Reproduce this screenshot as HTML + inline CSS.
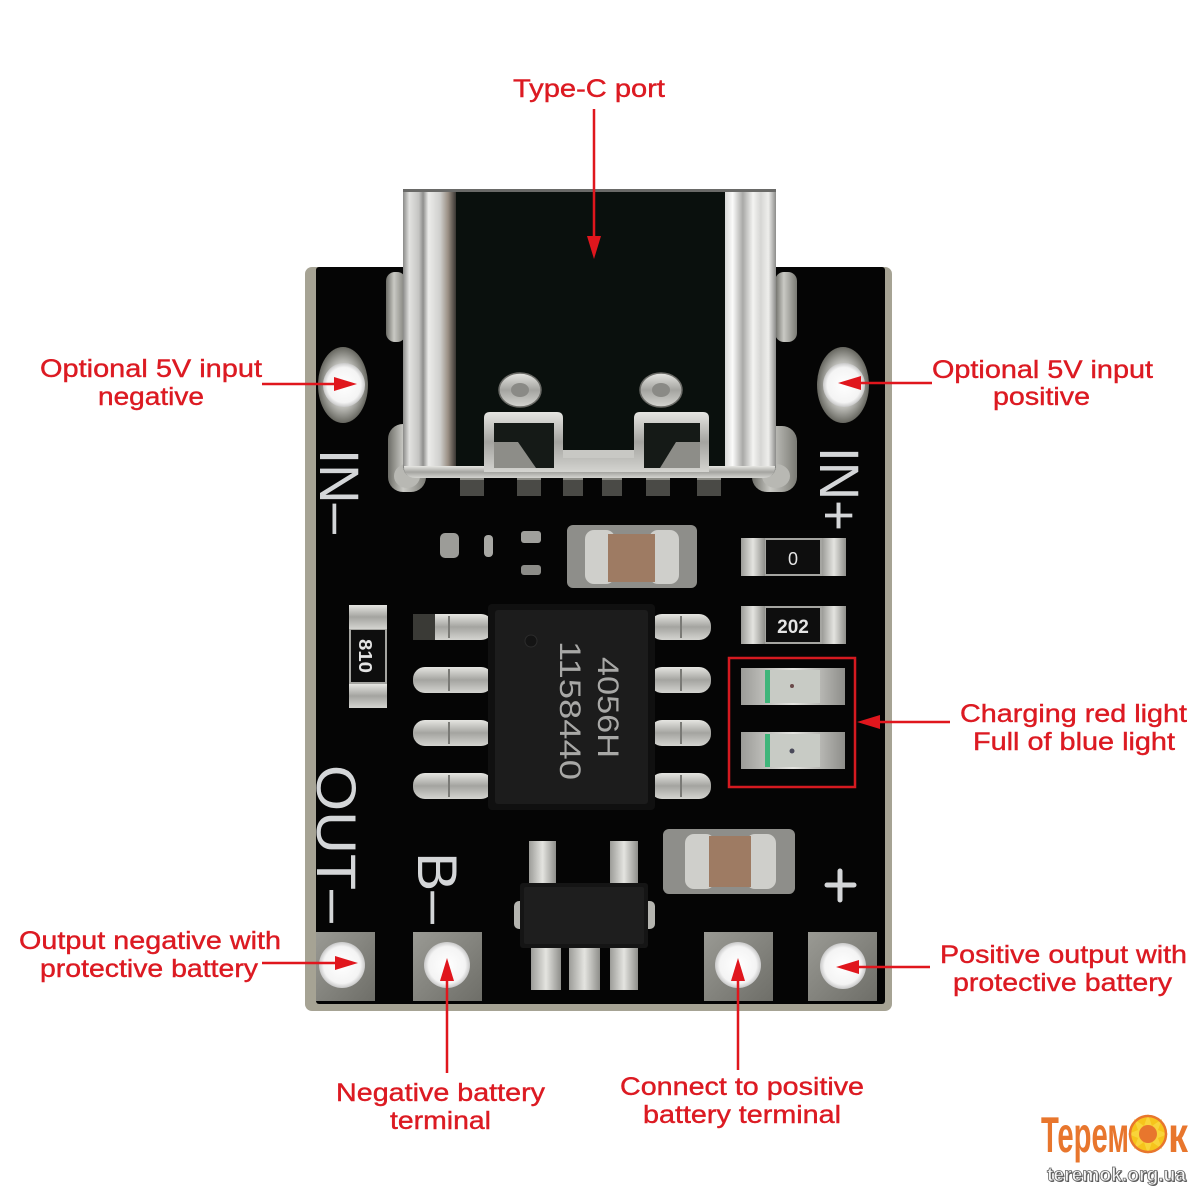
<!DOCTYPE html>
<html><head><meta charset="utf-8">
<style>
html,body{margin:0;padding:0;background:#fff;}
svg{display:block;}
</style></head>
<body>
<svg width="1199" height="1198" viewBox="0 0 1199 1198" xmlns="http://www.w3.org/2000/svg" font-family="'Liberation Sans', Arial, sans-serif">
<defs>
 <linearGradient id="sl" x1="0" x2="1" y1="0" y2="0">
  <stop offset="0" stop-color="#8a8a88"/>
  <stop offset="0.12" stop-color="#e2e2e0"/>
  <stop offset="0.3" stop-color="#c4c4c2"/>
  <stop offset="0.38" stop-color="#8f8f8d"/>
  <stop offset="0.48" stop-color="#ececea"/>
  <stop offset="0.7" stop-color="#cfcfcd"/>
  <stop offset="0.85" stop-color="#9a8f84"/>
  <stop offset="1" stop-color="#3a3632"/>
 </linearGradient>
 <linearGradient id="sr" x1="0" x2="1" y1="0" y2="0">
  <stop offset="0" stop-color="#d8d8d6"/>
  <stop offset="0.15" stop-color="#fbfbfa"/>
  <stop offset="0.35" stop-color="#a9a9a7"/>
  <stop offset="0.55" stop-color="#f4f4f2"/>
  <stop offset="0.7" stop-color="#d6d6d4"/>
  <stop offset="0.85" stop-color="#eeeeec"/>
  <stop offset="1" stop-color="#8c8c8a"/>
 </linearGradient>
 <linearGradient id="mv" x1="0" x2="0" y1="0" y2="1">
  <stop offset="0" stop-color="#e6e6e2"/>
  <stop offset="0.5" stop-color="#a4a4a0"/>
  <stop offset="1" stop-color="#d4d4d0"/>
 </linearGradient>
 <linearGradient id="mh" x1="0" x2="1" y1="0" y2="0">
  <stop offset="0" stop-color="#9c9c98"/>
  <stop offset="0.5" stop-color="#e4e4e0"/>
  <stop offset="1" stop-color="#8e8e8a"/>
 </linearGradient>
 <linearGradient id="pad" x1="0" x2="1" y1="0" y2="1">
  <stop offset="0" stop-color="#9a9a94"/>
  <stop offset="1" stop-color="#6e6e68"/>
 </linearGradient>
 <radialGradient id="hole" cx="0.5" cy="0.5" r="0.5">
  <stop offset="0" stop-color="#ffffff"/>
  <stop offset="0.8" stop-color="#f4f4f4"/>
  <stop offset="1" stop-color="#c8c8c8"/>
 </radialGradient>
 <radialGradient id="ring" cx="0.5" cy="0.5" r="0.5">
  <stop offset="0.6" stop-color="#bdbdb8"/>
  <stop offset="1" stop-color="#66665f"/>
 </radialGradient>
 <linearGradient id="tab" x1="0" x2="1" y1="0" y2="0">
  <stop offset="0" stop-color="#6c6c66"/>
  <stop offset="0.4" stop-color="#c9c9c4"/>
  <stop offset="1" stop-color="#7a7a74"/>
 </linearGradient>
</defs>

<rect width="1199" height="1198" fill="#ffffff"/>

<!-- PCB -->
<rect x="305" y="267" width="587" height="744" rx="7" fill="#a6a394"/>
<rect x="316" y="267" width="569" height="737" rx="3" fill="#050505"/>

<!-- mounting tabs of USB shell -->
<rect x="386" y="272" width="20" height="70" rx="9" fill="url(#tab)"/>
<rect x="775" y="272" width="22" height="70" rx="9" fill="url(#tab)"/>
<rect x="388" y="424" width="38" height="68" rx="15" fill="url(#tab)"/>
<ellipse cx="407" cy="476" rx="13" ry="12" fill="#b8b8b3"/>
<rect x="752" y="426" width="45" height="66" rx="15" fill="url(#tab)"/>
<ellipse cx="776" cy="476" rx="14" ry="12" fill="#b8b8b3"/>

<!-- USB-C pins -->
<g fill="#4a4a46">
 <rect x="460" y="474" width="24" height="22"/>
 <rect x="517" y="474" width="24" height="22"/>
 <rect x="563" y="474" width="20" height="22"/>
 <rect x="602" y="474" width="20" height="22"/>
 <rect x="646" y="474" width="24" height="22"/>
 <rect x="697" y="474" width="24" height="22"/>
</g>
<g fill="#8a8a84">
 <rect x="460" y="474" width="24" height="6"/>
 <rect x="517" y="474" width="24" height="6"/>
 <rect x="563" y="474" width="20" height="6"/>
 <rect x="602" y="474" width="20" height="6"/>
 <rect x="646" y="474" width="24" height="6"/>
 <rect x="697" y="474" width="24" height="6"/>
</g>

<!-- USB-C shell -->
<path d="M403,190 H776 V464 Q776,478 762,478 H417 Q403,478 403,464 Z" fill="#0a100d"/>
<path d="M403,190 H456 V478 H417 Q403,478 403,464 Z" fill="url(#sl)"/>
<path d="M725,190 H776 V464 Q776,478 762,478 H725 Z" fill="url(#sr)"/>
<rect x="403" y="189" width="373" height="3" fill="#6a6a68"/>
<!-- bottom rim -->
<path d="M404,466 H775 Q775,478 763,478 H416 Q404,478 404,466 Z" fill="url(#mv)"/>
<!-- brackets -->
<path d="M484,472 V418 Q484,412 490,412 H557 Q563,412 563,418 V450 H634 V418 Q634,412 640,412 H703 Q709,412 709,418 V472 Z" fill="url(#mv)"/>
<rect x="494" y="423" width="60" height="45" fill="#151a17"/>
<rect x="644" y="423" width="56" height="45" fill="#151a17"/>
<path d="M494,442 H518 L536,468 H494 Z" fill="#8d8d88"/>
<path d="M700,442 H676 L660,468 H700 Z" fill="#8d8d88"/>
<rect x="563" y="450" width="71" height="8" fill="#c8c8c4"/>
<!-- screws -->
<ellipse cx="520" cy="390" rx="21" ry="17" fill="url(#mv)" stroke="#6a6a66" stroke-width="1.5"/>
<ellipse cx="520" cy="390" rx="9" ry="7" fill="#8a8a86"/>
<ellipse cx="661" cy="390" rx="21" ry="17" fill="url(#mv)" stroke="#6a6a66" stroke-width="1.5"/>
<ellipse cx="661" cy="390" rx="9" ry="7" fill="#8a8a86"/>

<!-- Holes IN- / IN+ -->
<ellipse cx="343" cy="385" rx="25" ry="38" fill="url(#ring)"/>
<ellipse cx="344" cy="385" rx="21" ry="22" fill="url(#hole)"/>
<ellipse cx="843" cy="385" rx="26" ry="38" fill="url(#ring)"/>
<ellipse cx="844" cy="385" rx="21" ry="22" fill="url(#hole)"/>

<!-- silkscreen -->
<g fill="#d4d6d8" font-size="56">
 <text transform="translate(320,449) rotate(90)" textLength="85" lengthAdjust="spacingAndGlyphs">IN–</text>
 <text transform="translate(820,447) rotate(90)" textLength="84" lengthAdjust="spacingAndGlyphs">IN+</text>
 <text transform="translate(317,765) rotate(90)" textLength="158" lengthAdjust="spacingAndGlyphs">OUT–</text>
 <text transform="translate(418,852) rotate(90)" textLength="72" lengthAdjust="spacingAndGlyphs">B–</text>
</g>
<g stroke="#d4d6d8" stroke-width="5" stroke-linecap="round">
 <line x1="827" y1="885" x2="854" y2="885"/>
 <line x1="840" y1="871" x2="840" y2="900"/>
</g>

<!-- small parts top-left -->
<rect x="440" y="533" width="19" height="25" rx="5" fill="#9c9c98"/>
<rect x="484" y="535" width="9" height="22" rx="4" fill="#a8a8a4"/>
<rect x="521" y="531" width="20" height="12" rx="3" fill="#a0a09c"/>
<rect x="521" y="565" width="20" height="10" rx="3" fill="#8c8c88"/>

<!-- top capacitor -->
<rect x="567" y="525" width="130" height="63" rx="6" fill="#8e8e8a"/>
<rect x="585" y="530" width="30" height="54" rx="9" fill="#cfcfcb"/>
<rect x="649" y="530" width="30" height="54" rx="9" fill="#cfcfcb"/>
<rect x="608" y="534" width="47" height="48" fill="#9e7b63"/>

<!-- resistor 0 -->
<rect x="741" y="538" width="105" height="38" fill="#a5a5a1"/>
<rect x="741" y="538" width="24" height="38" fill="url(#mh)"/>
<rect x="822" y="538" width="24" height="38" fill="url(#mh)"/>
<rect x="766" y="540" width="54" height="34" fill="#0e0e0e"/>
<text x="793" y="565" font-size="18" fill="#e4e4e4" text-anchor="middle">0</text>

<!-- resistor 202 -->
<rect x="741" y="606" width="105" height="38" fill="#a5a5a1"/>
<rect x="741" y="606" width="24" height="38" fill="url(#mh)"/>
<rect x="822" y="606" width="24" height="38" fill="url(#mh)"/>
<rect x="766" y="608" width="54" height="34" fill="#0e0e0e"/>
<text x="793" y="633" font-size="19" font-weight="bold" fill="#e4e4e4" text-anchor="middle">202</text>

<!-- resistor 810 vertical -->
<rect x="349" y="605" width="38" height="103" fill="#a5a5a1"/>
<rect x="349" y="605" width="38" height="24" fill="url(#mv)"/>
<rect x="349" y="684" width="38" height="24" fill="url(#mv)"/>
<rect x="351" y="630" width="34" height="52" fill="#0e0e0e"/>
<text transform="translate(359,639) rotate(90)" font-size="18" font-weight="bold" fill="#e4e4e4" textLength="34" lengthAdjust="spacingAndGlyphs">810</text>

<!-- IC pins -->
<g>
 <rect x="413" y="614" width="80" height="26" rx="12" fill="url(#mv)"/>
 <rect x="413" y="667" width="80" height="26" rx="12" fill="url(#mv)"/>
 <rect x="413" y="720" width="80" height="26" rx="12" fill="url(#mv)"/>
 <rect x="413" y="773" width="80" height="26" rx="12" fill="url(#mv)"/>
 <rect x="650" y="614" width="61" height="26" rx="12" fill="url(#mv)"/>
 <rect x="650" y="667" width="61" height="26" rx="12" fill="url(#mv)"/>
 <rect x="650" y="720" width="61" height="26" rx="12" fill="url(#mv)"/>
 <rect x="650" y="773" width="61" height="26" rx="12" fill="url(#mv)"/>
 <rect x="413" y="614" width="22" height="26" fill="#3a3a36"/>
</g>
<g fill="#7a7a76">
 <rect x="448" y="616" width="2" height="22"/><rect x="448" y="669" width="2" height="22"/>
 <rect x="448" y="722" width="2" height="22"/><rect x="448" y="775" width="2" height="22"/>
 <rect x="680" y="616" width="2" height="22"/><rect x="680" y="669" width="2" height="22"/>
 <rect x="680" y="722" width="2" height="22"/><rect x="680" y="775" width="2" height="22"/>
</g>
<!-- IC body -->
<rect x="488" y="604" width="167" height="206" rx="4" fill="#101010"/>
<rect x="495" y="610" width="153" height="194" rx="3" fill="#1c1c1c"/>
<circle cx="531" cy="641" r="6" fill="#141414" stroke="#2c2c2c" stroke-width="1"/>
<g fill="#a8a8a6" font-size="30">
 <text transform="translate(598,657) rotate(90)" textLength="101" lengthAdjust="spacingAndGlyphs">4056H</text>
 <text transform="translate(560,641) rotate(90)" textLength="139" lengthAdjust="spacingAndGlyphs">1158440</text>
</g>

<!-- LEDs -->
<rect x="741" y="668" width="104" height="37" fill="url(#mh)"/>
<rect x="765" y="670" width="55" height="33" fill="#c8cbc5"/>
<rect x="765" y="670" width="5" height="33" fill="#3fb57a"/>
<circle cx="792" cy="686" r="2" fill="#6a4a4a"/>
<rect x="741" y="732" width="104" height="37" fill="url(#mh)"/>
<rect x="765" y="734" width="55" height="33" fill="#c8cbc5"/>
<rect x="765" y="734" width="5" height="33" fill="#3fb57a"/>
<circle cx="792" cy="751" r="2.5" fill="#4a4a5a"/>
<rect x="729" y="658" width="126" height="129" fill="none" stroke="#d51a20" stroke-width="2.5"/>

<!-- bottom capacitor -->
<rect x="663" y="829" width="132" height="65" rx="6" fill="#8e8e8a"/>
<rect x="685" y="834" width="30" height="55" rx="9" fill="#cfcfcb"/>
<rect x="746" y="834" width="30" height="55" rx="9" fill="#cfcfcb"/>
<rect x="709" y="836" width="42" height="51" fill="#9e7b63"/>

<!-- SOT -->
<rect x="529" y="841" width="27" height="46" fill="url(#mh)"/>
<rect x="610" y="841" width="28" height="46" fill="url(#mh)"/>
<rect x="531" y="944" width="30" height="46" fill="url(#mh)"/>
<rect x="569" y="944" width="31" height="46" fill="url(#mh)"/>
<rect x="610" y="944" width="28" height="46" fill="url(#mh)"/>
<rect x="514" y="901" width="12" height="28" rx="5" fill="#b5b5b0"/>
<rect x="643" y="901" width="12" height="28" rx="5" fill="#b5b5b0"/>
<rect x="520" y="883" width="128" height="65" rx="3" fill="#151515"/>
<rect x="524" y="887" width="120" height="57" rx="2" fill="#1e1e1e"/>

<!-- bottom pads -->
<rect x="316" y="932" width="59" height="69" fill="url(#pad)"/>
<circle cx="342" cy="965" r="23" fill="url(#hole)"/>
<rect x="413" y="932" width="69" height="69" fill="url(#pad)"/>
<circle cx="447" cy="965" r="23" fill="url(#hole)"/>
<rect x="704" y="932" width="69" height="69" fill="url(#pad)"/>
<circle cx="738" cy="965" r="23" fill="url(#hole)"/>
<rect x="808" y="932" width="69" height="69" fill="url(#pad)"/>
<circle cx="843" cy="966" r="23" fill="url(#hole)"/>

<!-- annotation arrows -->
<g stroke="#e0161d" stroke-width="2.5" fill="none">
 <line x1="594" y1="109" x2="594" y2="240"/>
 <line x1="262" y1="384" x2="337" y2="384"/>
 <line x1="932" y1="383" x2="858" y2="383"/>
 <line x1="950" y1="722" x2="877" y2="722"/>
 <line x1="262" y1="963" x2="337" y2="963"/>
 <line x1="930" y1="967" x2="857" y2="967"/>
 <line x1="447" y1="1073" x2="447" y2="978"/>
 <line x1="738" y1="1070" x2="738" y2="978"/>
</g>
<g fill="#e0161d">
 <polygon points="594,259 587,236 601,236"/>
 <polygon points="357,384 334,377 334,391"/>
 <polygon points="838,383 861,376 861,390"/>
 <polygon points="857,722 880,715 880,729"/>
 <polygon points="358,963 335,956 335,970"/>
 <polygon points="836,967 859,960 859,974"/>
 <polygon points="447,958 440,981 454,981"/>
 <polygon points="738,958 731,981 745,981"/>
</g>

<!-- labels -->
<g fill="#dc1a22" stroke="#dc1a22" stroke-width="0.4" font-size="25">
 <text x="513" y="97" textLength="152" lengthAdjust="spacingAndGlyphs">Type-C port</text>
 <text x="40" y="377" textLength="222" lengthAdjust="spacingAndGlyphs">Optional 5V input</text>
 <text x="98" y="405" textLength="106" lengthAdjust="spacingAndGlyphs">negative</text>
 <text x="932" y="378" textLength="221" lengthAdjust="spacingAndGlyphs">Optional 5V input</text>
 <text x="993" y="405" textLength="97" lengthAdjust="spacingAndGlyphs">positive</text>
 <text x="960" y="722" textLength="227" lengthAdjust="spacingAndGlyphs">Charging red light</text>
 <text x="973" y="750" textLength="202" lengthAdjust="spacingAndGlyphs">Full of blue light</text>
 <text x="19" y="949" textLength="262" lengthAdjust="spacingAndGlyphs">Output negative with</text>
 <text x="40" y="977" textLength="218" lengthAdjust="spacingAndGlyphs">protective battery</text>
 <text x="940" y="963" textLength="247" lengthAdjust="spacingAndGlyphs">Positive output with</text>
 <text x="953" y="991" textLength="219" lengthAdjust="spacingAndGlyphs">protective battery</text>
 <text x="336" y="1101" textLength="209" lengthAdjust="spacingAndGlyphs">Negative battery</text>
 <text x="390" y="1129" textLength="101" lengthAdjust="spacingAndGlyphs">terminal</text>
 <text x="620" y="1095" textLength="244" lengthAdjust="spacingAndGlyphs">Connect to positive</text>
 <text x="643" y="1123" textLength="198" lengthAdjust="spacingAndGlyphs">battery terminal</text>
</g>

<!-- logo -->
<g>
 <text x="1041" y="1152" font-family="'Liberation Sans Narrow','Liberation Sans',sans-serif" font-weight="bold" font-size="50" fill="#e8762d" textLength="88" lengthAdjust="spacingAndGlyphs">Терем</text>
 <circle cx="1148" cy="1134" r="18" fill="#f6c41c"/>
 <polygon points="1148,1114 1152,1126 1162,1119 1158,1130 1168,1134 1158,1138 1162,1149 1152,1142 1148,1154 1144,1142 1134,1149 1138,1138 1128,1134 1138,1130 1134,1119 1144,1126" fill="#f9d43a"/>
 <circle cx="1148" cy="1134" r="18" fill="none" stroke="#e8762d" stroke-width="2.5"/>
 <circle cx="1148" cy="1134" r="9" fill="#e8762d"/>
 <text x="1168" y="1152" font-family="'Liberation Sans Narrow','Liberation Sans',sans-serif" font-weight="bold" font-size="50" fill="#e8762d" textLength="20" lengthAdjust="spacingAndGlyphs">к</text>
 <text x="1047" y="1181" font-weight="bold" font-size="19" fill="#555" textLength="139" lengthAdjust="spacingAndGlyphs" transform="translate(1,1)">teremok.org.ua</text>
 <text x="1047" y="1181" font-weight="bold" font-size="19" fill="#f6f6f6" stroke="#6a6a6a" stroke-width="0.8" textLength="139" lengthAdjust="spacingAndGlyphs">teremok.org.ua</text>
</g>
</svg>
</body></html>
